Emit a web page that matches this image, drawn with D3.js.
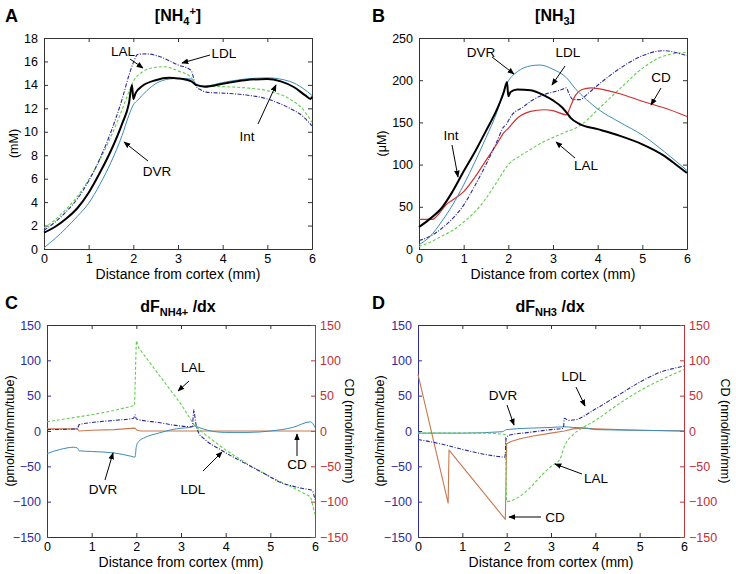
<!DOCTYPE html>
<html><head><meta charset="utf-8">
<script src="https://cdn.jsdelivr.net/npm/d3@7"></script>
<style>
body{margin:0;background:#fff}
text{font-family:"Liberation Sans",Arial,Helvetica,sans-serif}
</style>
</head><body>
<svg id="chart" width="736" height="574"></svg>
<script>
// ---------- DATA ----------
const xTicks = [0,1,2,3,4,5,6];
const aTicks = [0,2,4,6,8,10,12,14,16,18];
const bTicks = [0,50,100,150,200,250];
const cdTicks = [-150,-100,-50,0,50,100,150];

// Panel A [NH4+] (mM)
const A_Int = [[0,1.4],[0.25,1.9],[0.5,2.6],[0.75,3.5],[1,4.8],[1.25,6.5],[1.5,8.4],[1.75,10.7],[1.9,12.4],[1.97,14.0],[2.0,12.8],[2.05,13.3],[2.2,13.9],[2.5,14.4],[2.8,14.6],[3.0,14.55],[3.3,14.3],[3.4,14.0],[3.6,13.85],[4.0,14.1],[4.5,14.4],[5.0,14.5],[5.3,14.3],[5.6,13.8],[5.85,13.1],[5.97,12.8],[6,13.0]];
const A_DVR = [[0,0.1],[0.25,0.9],[0.5,1.8],[0.75,2.8],[1,3.9],[1.25,5.5],[1.5,7.4],[1.75,9.7],[1.9,11.4],[2.0,12.3],[2.1,12.7],[2.3,13.5],[2.5,14.1],[2.8,14.5],[3.0,14.55],[3.3,14.5],[3.4,14.1],[3.6,13.9],[4.0,14.2],[4.5,14.5],[5.0,14.6],[5.5,14.3],[5.8,13.7],[6,13.1]];
const A_LDL = [[0,1.6],[0.25,2.3],[0.5,3.2],[0.75,4.3],[1,5.8],[1.25,7.7],[1.5,10.0],[1.75,12.8],[1.9,14.8],[2.0,15.9],[2.1,16.6],[2.3,16.65],[2.6,16.4],[3.0,15.7],[3.25,15.35],[3.3,15.2],[3.4,13.9],[3.5,13.6],[3.7,13.35],[4.0,13.3],[4.5,13.15],[5.0,12.8],[5.5,12.0],[5.8,11.3],[6,10.5]];
const A_LAL = [[0,1.8],[0.25,2.5],[0.5,3.4],[0.75,4.5],[1,5.9],[1.25,7.6],[1.5,9.6],[1.75,11.9],[1.9,13.4],[2.0,14.3],[2.2,15.1],[2.5,15.5],[2.7,15.55],[3.0,15.2],[3.3,14.6],[3.4,14.0],[3.6,13.9],[4.0,13.85],[4.5,13.75],[5.0,13.5],[5.5,12.8],[5.8,11.9],[6,10.8]];

// Panel B [NH3] (uM)
const B_Int = [[0,26],[0.25,36],[0.5,48],[0.75,68],[1,92],[1.25,115],[1.5,140],[1.75,166],[1.9,186],[1.97,198],[2.0,181],[2.05,186],[2.2,189],[2.5,188],[2.8,182],[3.0,176],[3.2,168],[3.3,162],[3.4,155],[3.6,148],[4.0,142],[4.5,134],[5.0,124],[5.5,110],[5.8,98],[6,90]];
const B_DVR = [[0,5],[0.25,15],[0.5,32],[0.75,52],[1,76],[1.25,103],[1.5,132],[1.75,163],[1.9,188],[2.0,199],[2.2,210],[2.5,217],[2.7,218],[3.0,213],[3.3,203],[3.5,190],[3.75,177],[4.0,166],[4.5,150],[5.0,135],[5.5,115],[5.8,102],[6,93]];
const B_LDL = [[0,10],[0.25,15],[0.5,24],[0.75,36],[1,52],[1.25,75],[1.5,100],[1.75,128],[1.9,145],[1.95,147],[2.0,152],[2.1,160],[2.3,167],[2.5,175],[2.8,183],[3.0,186],[3.2,189],[3.3,191],[3.35,185],[3.45,177],[3.6,177],[3.8,185],[4.0,194],[4.5,214],[5.0,229],[5.3,234],[5.5,235],[5.8,232],[6,229]];
const B_CD = [[0,35],[0.3,35],[0.45,42],[0.6,52],[0.75,58],[1,68],[1.25,85],[1.5,105],[1.75,125],[1.9,138],[2.0,143],[2.2,155],[2.5,163],[2.8,165],[3.0,164],[3.3,159],[3.4,170],[3.5,182],[3.65,189],[3.85,191],[4.2,188],[4.5,184],[5.0,175],[5.5,167],[6,157]];
const B_LAL = [[0,3],[0.25,8],[0.5,15],[0.75,22],[1,32],[1.25,44],[1.5,60],[1.75,80],[2.0,100],[2.25,110],[2.5,118],[2.75,126],[3.0,132],[3.3,139],[3.5,143],[3.7,150],[4.0,165],[4.5,190],[5.0,214],[5.5,229],[6,233]];

// Panel C dF_NH4+/dx
const C_LAL = [[0,13],[0.5,18],[1,23],[1.5,29],[1.96,36],[2.0,128],[2.05,118],[2.5,80],[3.0,38],[3.3,8],[3.5,-3],[4.0,-27],[4.5,-47],[5.0,-65],[5.5,-80],[5.9,-93],[6,-118]];
const C_LDL = [[0,2],[0.68,3],[0.72,9],[1,12],[1.5,15],[1.94,18],[1.97,23],[2.0,17],[2.5,12],[3.0,7],[3.25,6],[3.29,30],[3.32,15],[3.4,-3],[3.5,-10],[3.9,-27],[4.5,-48],[5.0,-65],[5.2,-72],[5.5,-78],[5.7,-81],[5.93,-84],[6,-97]];
const C_DVR = [[0,-32],[0.3,-26],[0.6,-23],[0.68,-24],[0.72,-28],[1,-29],[1.5,-31],[1.9,-36],[1.97,-37],[2.0,-22],[2.05,-15],[2.2,-9],[2.5,-3],[2.8,2],[3.0,4],[3.2,5],[3.3,7],[3.4,5],[3.6,1],[4.0,-2],[4.5,-2],[5.0,0],[5.5,5],[5.9,13],[6,5]];
const C_CD = [[0,3],[0.68,3],[0.72,0],[1.0,1],[1.5,2],[1.97,4],[2.02,1],[2.1,0],[3.0,0],[6,0]];

// Panel D dF_NH3/dx
const D_CD = [[0,80],[0.68,-102],[0.7,-27],[1.97,-125],[2.0,-18],[2.1,-15],[2.3,-11],[2.6,-7],[3.0,-3],[3.3,0],[3.5,3],[3.7,4],[4.0,3],[5.0,1],[6,0]];
const D_LDL = [[0,-12],[0.5,-18],[1.0,-26],[1.5,-33],[1.8,-36],[1.96,-37],[1.99,-10],[2.05,-6],[2.5,-2],[3.0,2],[3.28,4],[3.3,18],[3.4,15],[3.55,16],[4.0,31],[4.5,50],[5.0,69],[5.5,84],[5.8,89],[6,92]];
const D_LAL = [[0,-3],[1.0,-3],[1.5,-3],[1.97,-5],[2.0,-100],[2.2,-96],[2.5,-82],[2.8,-62],[3.0,-50],[3.2,-40],[3.3,-22],[3.5,-5],[3.7,4],[4.0,15],[4.5,37],[5.0,57],[5.5,73],[6,87]];
const D_DVR = [[0,-3],[1.0,-3],[1.9,-1],[2.0,2],[2.5,4],[3.0,5],[3.3,6],[3.5,5],[3.8,4],[4.0,2],[5.0,1],[6,0]];

// ---------- STYLES ----------
const ST = {
  Int:{stroke:"#000",width:2,dash:null},
  DVR:{stroke:"#3b8db8",width:1,dash:null},
  LDL:{stroke:"#2c2c96",width:1.1,dash:"4,1.5,1,1.5"},
  LAL:{stroke:"#5fd04a",width:1.1,dash:"3,2"},
  CDb:{stroke:"#d03030",width:1.2,dash:null},
  CDo:{stroke:"#c8784e",width:1.1,dash:null}
};
const BLUE="#2e2e9e", RED="#c03038";

const svg = d3.select("#chart");
const defs = svg.append("defs");
defs.append("marker").attr("id","arr").attr("viewBox","0 0 10 10")
  .attr("refX",9).attr("refY",5).attr("markerWidth",7).attr("markerHeight",7)
  .attr("orient","auto-start-reverse")
  .append("path").attr("d","M0,1 L10,5 L0,9 Z").attr("fill","#000");

function panel(o){
  const g = svg.append("g");
  const x = d3.scaleLinear().domain([0,6]).range([o.l,o.r]);
  const y = d3.scaleLinear().domain(o.yd).range([o.b,o.t]);
  const lc = o.leftColor||"#333", rc = o.rightColor||"#333";
  const ax = (gen,tr,col,labels)=>{
    const a = g.append("g").attr("transform",tr).call(gen);
    a.select(".domain").attr("stroke",col);
    a.selectAll(".tick line").attr("stroke",col);
    a.selectAll("text").attr("font-size",12.5).attr("fill",labels?(col==="#333"?"#000":col):"none")
      .attr("font-family",'"Liberation Sans",Arial,sans-serif');
    return a;
  };
  const fmt = d3.format("d");
  ax(d3.axisBottom(x).tickValues(xTicks).tickSize(-4).tickSizeOuter(0).tickPadding(5).tickFormat(fmt),`translate(0,${o.b})`,"#333",true);
  ax(d3.axisTop(x).tickValues(xTicks).tickSize(-4).tickSizeOuter(0).tickFormat(""),`translate(0,${o.t})`,"#333",false);
  ax(d3.axisLeft(y).tickValues(o.yt).tickSize(-4).tickSizeOuter(0).tickPadding(6).tickFormat(fmt),`translate(${o.l},0)`,lc,true);
  ax(d3.axisRight(y).tickValues(o.yt).tickSize(-4).tickSizeOuter(0).tickPadding(5)
      .tickFormat(o.yr? fmt:""),`translate(${o.r},0)`,rc,!!o.yr);
  o.series.forEach(s=>{
    const st = ST[s.k];
    const line = d3.line().x(d=>x(d[0])).y(d=>y(d[1])).curve(s.lin?d3.curveLinear:d3.curveMonotoneX);
    g.append("path").datum(s.d).attr("d",line).attr("fill","none")
      .attr("stroke",st.stroke).attr("stroke-width",st.width)
      .attr("stroke-dasharray",st.dash).attr("stroke-linejoin","round");
  });
  g.append("text").attr("x",(o.l+o.r)/2).attr("y",o.b+30).attr("text-anchor","middle")
    .attr("font-size",14).text("Distance from cortex (mm)");
  g.append("text").attr("transform",`translate(${o.yl[0]},${(o.t+o.b)/2}) rotate(-90)`)
    .attr("text-anchor","middle").attr("font-size",12.5).text(o.yl[1]);
  if(o.yrl) g.append("text").attr("transform",`translate(${o.yrl[0]},${(o.t+o.b)/2}) rotate(90)`)
    .attr("text-anchor","middle").attr("font-size",12.5).text(o.yrl[1]);
  g.append("text").attr("x",o.letter[0]).attr("y",o.letter[1]).attr("font-weight","bold")
    .attr("font-size",18).text(o.letter[2]);
  o.notes.forEach(n=>{
    g.append("text").attr("x",n.tx).attr("y",n.ty).attr("text-anchor","middle")
      .attr("font-size",13.5).text(n.t);
    g.append("line").attr("x1",n.a[0]).attr("y1",n.a[1]).attr("x2",n.a[2]).attr("y2",n.a[3])
      .attr("stroke","#000").attr("stroke-width",1).attr("marker-end","url(#arr)");
  });
  return g;
}

function title(x0,y0,parts){
  const t = svg.append("text").attr("x",x0).attr("y",y0).attr("text-anchor","middle")
    .attr("font-weight","bold").attr("font-size",16);
  parts.forEach(p=>{
    const ts = t.append("tspan").text(p.s);
    if(p.sub){ts.attr("font-size",11).attr("dy",p.dy);}
    else if(p.dy) ts.attr("dy",p.dy);
  });
}

panel({l:44,r:312,t:38,b:249,yd:[0,18],yt:aTicks,yl:[18,"(mM)"],letter:[5,22,"A"],
  series:[{k:"DVR",d:A_DVR},{k:"LAL",d:A_LAL},{k:"LDL",d:A_LDL},{k:"Int",d:A_Int}],
  notes:[
    {t:"LAL",tx:123,ty:56,a:[130,59,143,68]},
    {t:"LDL",tx:224,ty:58,a:[210,55,182,63]},
    {t:"DVR",tx:157,ty:176,a:[148,161,124,142]},
    {t:"Int",tx:247,ty:141,a:[258,124,276,85]}
  ]});
title(178,21,[{s:"[NH"},{s:"4",sub:true,dy:4},{s:"+",sub:true,dy:-10},{s:"]",dy:6}]);

panel({l:419,r:687,t:38,b:249,yd:[0,250],yt:bTicks,yl:[386,"(μM)"],letter:[372,22,"B"],
  series:[{k:"LAL",d:B_LAL},{k:"CDb",d:B_CD},{k:"LDL",d:B_LDL},{k:"DVR",d:B_DVR},{k:"Int",d:B_Int}],
  notes:[
    {t:"DVR",tx:481,ty:57,a:[492,57,514,74]},
    {t:"LDL",tx:568,ty:57,a:[565,66,552,85]},
    {t:"CD",tx:661,ty:82,a:[661,88,651,105]},
    {t:"Int",tx:451,ty:140,a:[452,145,458,177]},
    {t:"LAL",tx:586,ty:170,a:[575,158,556,142]}
  ]});
title(555,21,[{s:"[NH"},{s:"3",sub:true,dy:4},{s:"]",dy:-4}]);

panel({l:47,r:315,t:325,b:537,yd:[-150,150],yt:cdTicks,yr:true,leftColor:BLUE,rightColor:RED,
  yl:[14,"(pmol/min/mm/tube)"],yrl:[345,"CD (nmol/min/mm)"],letter:[5,309,"C"],
  series:[{k:"CDo",d:C_CD,lin:true},{k:"DVR",d:C_DVR},{k:"LAL",d:C_LAL,lin:true},{k:"LDL",d:C_LDL}],
  notes:[
    {t:"LAL",tx:193,ty:372,a:[189,381,178,391]},
    {t:"DVR",tx:103,ty:494,a:[105,480,113,453]},
    {t:"LDL",tx:193,ty:494,a:[203,471,222,452]},
    {t:"CD",tx:297,ty:469,a:[297,456,297,434]}
  ]});
title(178,312,[{s:"dF"},{s:"NH4+",sub:true,dy:4},{s:" /dx",dy:-4}]);

panel({l:418,r:684,t:325,b:537,yd:[-150,150],yt:cdTicks,yr:true,leftColor:BLUE,rightColor:RED,
  yl:[384,"(pmol/min/mm/tube)"],yrl:[721,"CD (nmol/min/mm)"],letter:[372,309,"D"],
  series:[{k:"CDo",d:D_CD,lin:true},{k:"DVR",d:D_DVR},{k:"LAL",d:D_LAL},{k:"LDL",d:D_LDL}],
  notes:[
    {t:"DVR",tx:503,ty:400,a:[507,405,514,425]},
    {t:"LDL",tx:574,ty:381,a:[576,387,585,406]},
    {t:"LAL",tx:596,ty:483,a:[582,474,555,464]},
    {t:"CD",tx:555,ty:522,a:[541,517,509,517]}
  ]});
title(550,312,[{s:"dF"},{s:"NH3",sub:true,dy:4},{s:" /dx",dy:-4}]);
</script>
</body></html>
